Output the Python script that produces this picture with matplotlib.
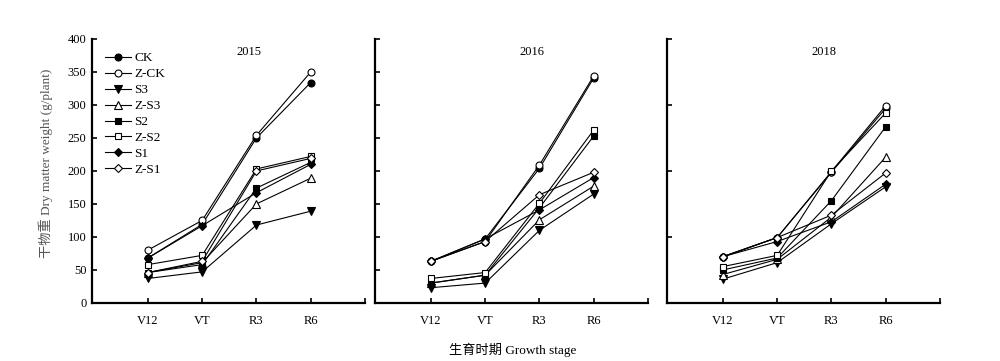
import numpy as np
import matplotlib
matplotlib.use('Agg')
import matplotlib.pyplot as plt

plt.rcParams['font.family'] = ['Liberation Serif', 'Noto Sans CJK SC']
plt.rcParams['font.size'] = 9

# Growth stages
stages = ['V12', 'VT', 'R3', 'R6']
years = ['2015', '2016', '2018']
treatments = ['CK', 'Z-CK', 'S3', 'Z-S3', 'S2', 'Z-S2', 'S1', 'Z-S1']

# Dry matter weight (g/plant), one list per treatment and year
ck_2015 = [68, 119, 250, 334]
zck_2015 = [80, 125, 254, 350]
s3_2015 = [37, 47, 118, 139]
zs3_2015 = [46, 61, 150, 189]
s2_2015 = [46, 58, 174, 213]
zs2_2015 = [58, 72, 203, 222]
s1_2015 = [68, 117, 167, 210]
zs1_2015 = [46, 63, 200, 219]

ck_2016 = [63, 97, 204, 341]
zck_2016 = [63, 93, 209, 344]
s3_2016 = [23, 30, 110, 165]
zs3_2016 = [30, 42, 126, 177]
s2_2016 = [30, 42, 144, 253]
zs2_2016 = [37, 46, 151, 262]
s1_2016 = [63, 97, 141, 190]
zs1_2016 = [63, 93, 164, 198]

ck_2018 = [70, 99, 198, 295]
zck_2018 = [70, 99, 199, 299]
s3_2018 = [36, 61, 120, 176]
zs3_2018 = [43, 66, 130, 221]
s2_2018 = [50, 68, 155, 267]
zs2_2018 = [55, 72, 200, 288]
s1_2018 = [70, 93, 123, 180]
zs1_2018 = [70, 99, 133, 197]

data = {
    '2015': [ck_2015, zck_2015, s3_2015, zs3_2015, s2_2015, zs2_2015, s1_2015, zs1_2015],
    '2016': [ck_2016, zck_2016, s3_2016, zs3_2016, s2_2016, zs2_2016, s1_2016, zs1_2016],
    '2018': [ck_2018, zck_2018, s3_2018, zs3_2018, s2_2018, zs2_2018, s1_2018, zs1_2018],
}

markers = ['o', 'o', 'v', '^', 's', 's', 'D', 'D']
faces = ['black', 'white', 'black', 'white', 'black', 'white', 'black', 'white']
sizes = [5, 5, 5.5, 5.5, 5, 5, 4.5, 4.5]

fig = plt.figure(figsize=(10, 3.61), dpi=100)
lefts = [0.092, 0.375, 0.667]
ystep = [50, 50, 100]
x = np.arange(len(stages))

for i, yr in enumerate(years):
    ax = fig.add_axes([lefts[i], 0.161, 0.273, 0.731])
    for j, name in enumerate(treatments):
        ax.plot(x, data[yr][j], color='black', lw=0.8, marker=markers[j],
                markersize=sizes[j], markerfacecolor=faces[j],
                markeredgecolor='black', markeredgewidth=0.8, label=name)
    ax.set_xlim(-1.03, 4.0)
    ax.set_ylim(0, 400)
    ax.set_xticks([0, 1, 2, 3, 4])
    ax.set_xticklabels(stages + [''])
    ax.set_yticks(np.arange(0, 401, ystep[i]))
    ax.spines['top'].set_visible(False)
    ax.spines['right'].set_visible(False)
    ax.spines['left'].set_linewidth(1.6)
    ax.spines['bottom'].set_linewidth(1.6)
    ax.tick_params(direction='in', length=3.5, width=1.2, labelsize=9, pad=9)
    ax.tick_params(axis='y', pad=4)
    if i > 0:
        ax.set_yticklabels([])
    ax.text(0.575, 0.95, yr, transform=ax.transAxes, ha='center', va='center', fontsize=9)
    if i == 0:
        ax.legend(loc='upper left', bbox_to_anchor=(0.03, 0.97), frameon=False,
                  handlelength=1.9, handletextpad=0.3, labelspacing=0.28,
                  fontsize=9.5, borderaxespad=0)
        ax.set_ylabel('干物重 Dry matter weight (g/plant)', color='#555555',
                      fontsize=9.5)
        ax.yaxis.set_label_coords(-0.142, 0.53)

fig.text(0.513, 0.03, '生育时期 Growth stage', ha='center', va='center', fontsize=9.5)

plt.savefig('out.png', dpi=100)
